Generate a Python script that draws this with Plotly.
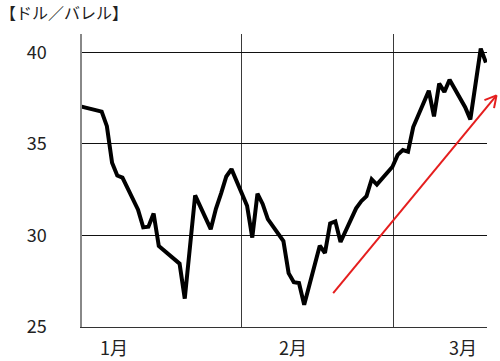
import math
import pandas as pd
import plotly.graph_objects as go

# WTI crude price (USD/barrel)
dates = [
    "2015-12-31",
    "2016-01-04", "2016-01-05", "2016-01-06", "2016-01-07", "2016-01-08",
    "2016-01-11", "2016-01-12", "2016-01-13", "2016-01-14", "2016-01-15",
    "2016-01-19", "2016-01-20", "2016-01-21", "2016-01-22",
    "2016-01-25", "2016-01-26", "2016-01-27", "2016-01-28", "2016-01-29",
    "2016-02-01", "2016-02-02", "2016-02-03", "2016-02-04", "2016-02-05",
    "2016-02-08", "2016-02-09", "2016-02-10", "2016-02-11", "2016-02-12",
    "2016-02-15", "2016-02-16", "2016-02-17", "2016-02-18", "2016-02-19",
    "2016-02-22", "2016-02-23", "2016-02-24", "2016-02-25", "2016-02-26",
    "2016-02-29", "2016-03-01", "2016-03-02", "2016-03-03", "2016-03-04",
    "2016-03-07", "2016-03-08", "2016-03-09", "2016-03-10", "2016-03-11",
    "2016-03-14", "2016-03-15", "2016-03-16", "2016-03-17", "2016-03-18",
]
prices = [
    37.04,
    36.76, 35.97, 33.97, 33.27, 33.16,
    31.41, 30.44, 30.48, 31.20, 29.42,
    28.46, 26.55, 29.53, 32.19,
    30.34, 31.45, 32.30, 33.22, 33.62,
    31.62, 29.88, 32.28, 31.72, 30.89,
    29.69, 27.94, 27.45, 27.40, 26.21,
    29.44, 29.04, 30.66, 30.77, 29.64,
    31.48, 31.87, 32.15, 33.07, 32.78,
    33.75, 34.40, 34.66, 34.57, 35.92,
    37.90, 36.50, 38.29, 37.84, 38.50,
    37.00, 36.34, 38.46, 40.20, 39.44,
]

y_ticks = [25, 30, 35, 40]
month_labels = ["1月", "2月", "3月"]
unit_label = "【ドル／バレル】"

# trend arrow (start -> tip), in data units
arrow_dates = ["2016-02-17 14:00", "2016-03-20 01:00"]
arrow_values = [26.85, 37.65]

X_RANGE = ["2015-12-31 05:00", "2016-03-18 05:00"]
Y_RANGE = [25, 41]
W, H = 500, 361
M = dict(l=82, r=13, t=34, b=34)
PW = W - M["l"] - M["r"]
PH = H - M["t"] - M["b"]

x0 = pd.Timestamp(X_RANGE[0])
x1 = pd.Timestamp(X_RANGE[1])


def xp(d):
    return (pd.Timestamp(d) - x0) / (x1 - x0)


def yp(v):
    return (v - Y_RANGE[0]) / (Y_RANGE[1] - Y_RANGE[0])


fig = go.Figure()
fig.add_trace(go.Scatter(
    x=dates, y=prices, mode="lines",
    line=dict(color="black", width=4),
    hoverinfo="skip", showlegend=False,
))

# arrow built from data-unit endpoints
sx, sy = xp(arrow_dates[0]), yp(arrow_values[0])
tx, ty = xp(arrow_dates[1]), yp(arrow_values[1])
red = "#e51e1e"
shapes = [dict(type="line", xref="paper", yref="paper",
               x0=sx, y0=sy, x1=tx, y1=ty,
               line=dict(color=red, width=2))]
ang = math.atan2((ty - sy) * PH, (tx - sx) * PW)
head_len = 13
for da in (0.5, -0.5):
    a = ang + math.pi + da
    hx = tx + head_len * math.cos(a) / PW
    hy = ty + head_len * math.sin(a) / PH
    shapes.append(dict(type="line", xref="paper", yref="paper",
                       x0=tx, y0=ty, x1=hx, y1=hy,
                       line=dict(color=red, width=2)))

font_family = "Noto Sans CJK JP, Noto Sans, sans-serif"
label_pos = [0.0785, 0.521, 0.941]
annotations = []
for lab, px in zip(month_labels, label_pos):
    annotations.append(dict(
        text=lab, xref="paper", yref="paper", x=px, y=0,
        xanchor="center", yanchor="middle", yshift=-20, showarrow=False,
        font=dict(size=18, color="#222", family=font_family),
    ))

fig.update_layout(
    width=W, height=H, margin=M,
    paper_bgcolor="white", plot_bgcolor="white",
    shapes=shapes, annotations=annotations,
    title=dict(text=unit_label, xref="container", yref="container",
               x=0.0, xanchor="left", y=1 - 13 / H, yanchor="middle",
               font=dict(size=16, color="#222", family=font_family)),
    xaxis=dict(type="date", range=X_RANGE,
               tickvals=["2016-01-31", "2016-02-29 06:00"], ticktext=["", ""],
               showgrid=True, gridcolor="#3a3a3a", gridwidth=1,
               showline=True, linecolor="#333", linewidth=1,
               zeroline=False, ticks="", fixedrange=True),
    yaxis=dict(range=Y_RANGE, tickvals=y_ticks,
               showgrid=True, gridcolor="#111", gridwidth=1,
               showline=True, linecolor="#888", linewidth=1.5,
               zeroline=False, ticks="", ticklabelstandoff=30,
               tickfont=dict(size=18, color="#222", family=font_family)),
)

fig.write_html("out.html")
